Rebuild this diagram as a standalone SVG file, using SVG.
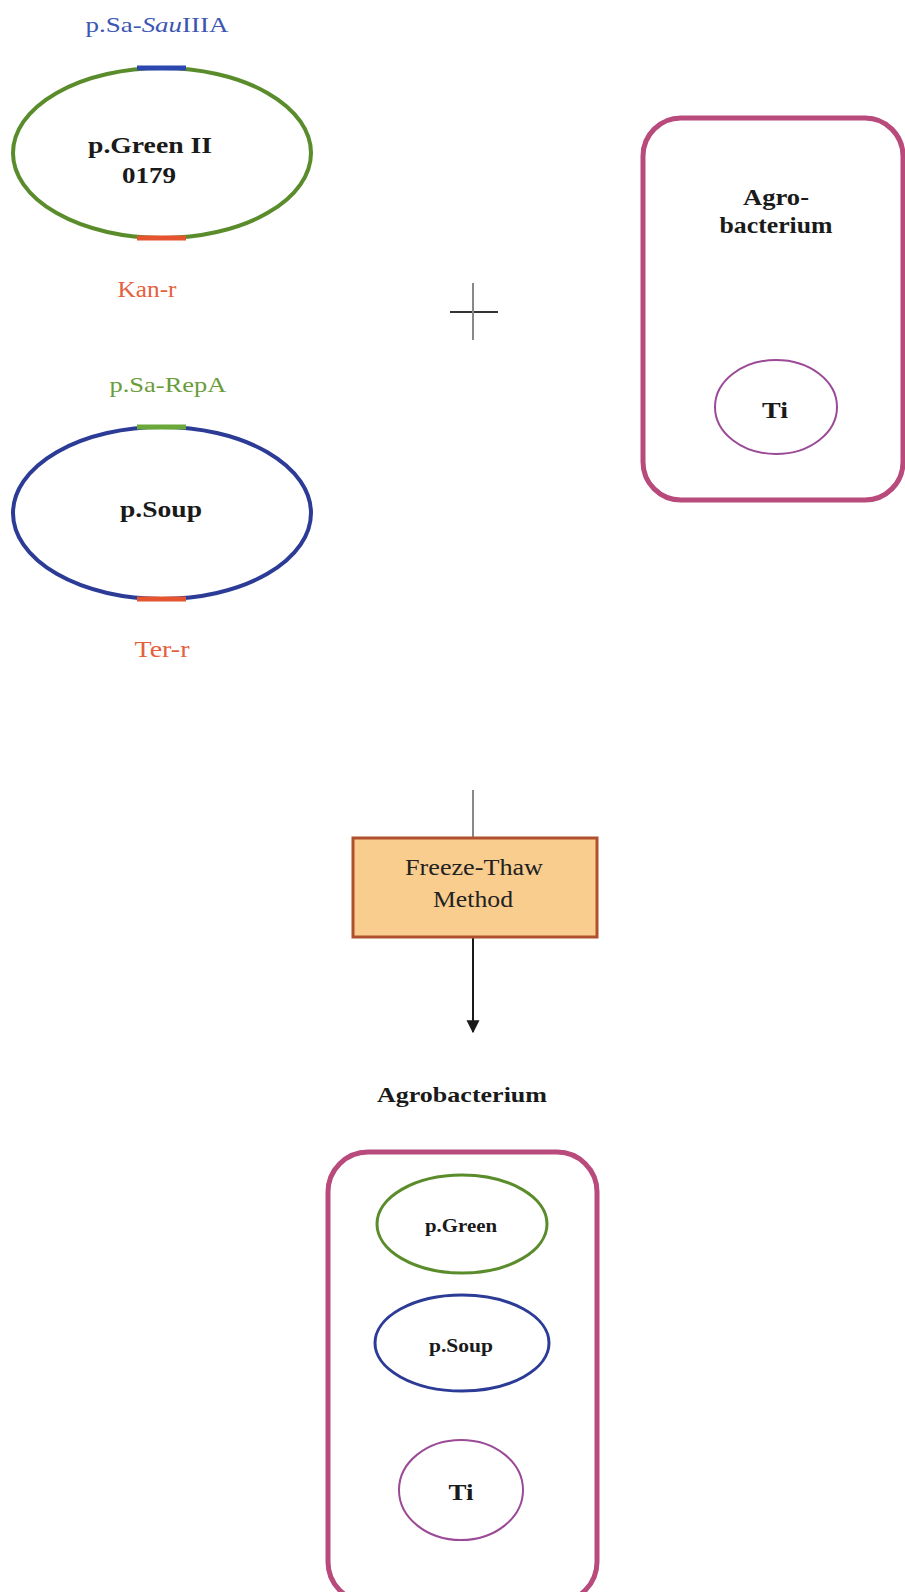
<svg xmlns="http://www.w3.org/2000/svg" width="905" height="1592" viewBox="0 0 905 1592">
<defs>
<style>
text{font-family:"Liberation Serif","Times New Roman",serif;text-anchor:middle}
.b{font-weight:bold;fill:#1a1a1a}
.cell{fill:#fff;stroke:#b84a7c;stroke-width:5}
.ti{fill:#fff;stroke:#9a4a96;stroke-width:2}
.green{fill:none;stroke:#5a8c2c}
.blue{fill:none;stroke:#2c3c96}
.seg{stroke-width:5;fill:none}
</style>
<marker id="arr" viewBox="0 0 10 10" refX="9" refY="5" markerWidth="13" markerHeight="17" markerUnits="userSpaceOnUse" orient="auto"><path d="M0,0 L10,5 L0,10 z" fill="#1a1a1a"/></marker>
</defs>
<rect width="905" height="1592" fill="#fff"/>
<g id="pgreen">
<text x="157" y="32" font-size="22" fill="#3b56b3" textLength="143" lengthAdjust="spacingAndGlyphs">p.Sa-<tspan font-style="italic">Sau</tspan>IIIA</text>
<ellipse cx="162" cy="153" rx="149" ry="85" class="green" stroke-width="4"/>
<line x1="137" y1="68" x2="186" y2="68" class="seg" stroke="#2c48b0"/>
<line x1="137" y1="238" x2="186" y2="238" class="seg" stroke="#e5542e"/>
<text x="150" y="153" font-size="24" class="b" textLength="124" lengthAdjust="spacingAndGlyphs">p.Green II</text>
<text x="149" y="183" font-size="24" class="b" textLength="54" lengthAdjust="spacingAndGlyphs">0179</text>
<text x="147" y="297" font-size="23" fill="#e5603c" textLength="59" lengthAdjust="spacingAndGlyphs">Kan-r</text>
</g>
<g id="psoup">
<text x="168" y="392" font-size="22" fill="#6a9c3a" textLength="117" lengthAdjust="spacingAndGlyphs">p.Sa-RepA</text>
<ellipse cx="162" cy="513" rx="149" ry="86" class="blue" stroke-width="4"/>
<line x1="137" y1="427" x2="186" y2="427" class="seg" stroke="#6aa83a"/>
<line x1="137" y1="599" x2="186" y2="599" class="seg" stroke="#e5542e"/>
<text x="161" y="517" font-size="24" class="b" textLength="82" lengthAdjust="spacingAndGlyphs">p.Soup</text>
<text x="162" y="657" font-size="23" fill="#e5603c" textLength="55" lengthAdjust="spacingAndGlyphs">Ter-r</text>
</g>
<g id="plus">
<line x1="450" y1="312" x2="498" y2="312" stroke="#333" stroke-width="2"/>
<line x1="473" y1="283" x2="473" y2="340" stroke="#888" stroke-width="2"/>
</g>
<g id="agro1">
<rect x="643" y="118" width="260" height="382" rx="38" class="cell"/>
<text x="776" y="205" font-size="23" class="b" textLength="66" lengthAdjust="spacingAndGlyphs">Agro-</text>
<text x="776" y="233" font-size="23" class="b" textLength="113" lengthAdjust="spacingAndGlyphs">bacterium</text>
<ellipse cx="776" cy="407" rx="61" ry="47" class="ti"/>
<text x="775" y="418" font-size="23" class="b" textLength="26" lengthAdjust="spacingAndGlyphs">Ti</text>
</g>
<g id="connectors">
<line x1="473" y1="790" x2="473" y2="838" stroke="#888" stroke-width="2"/>
<line x1="473" y1="937" x2="473" y2="1032" stroke="#1a1a1a" stroke-width="2" marker-end="url(#arr)"/>
</g>
<g id="freeze">
<rect x="353" y="838" width="244" height="99" fill="#f9cd8e" stroke="#b0502c" stroke-width="3"/>
<text x="474" y="875" font-size="23" fill="#222" textLength="138" lengthAdjust="spacingAndGlyphs">Freeze-Thaw</text>
<text x="473" y="907" font-size="23" fill="#222" textLength="80" lengthAdjust="spacingAndGlyphs">Method</text>
</g>
<g id="agro-label">
<text x="462" y="1102" font-size="22" class="b" textLength="170" lengthAdjust="spacingAndGlyphs">Agrobacterium</text>
</g>
<g id="agro2">
<rect x="328" y="1152" width="269" height="450" rx="40" class="cell"/>
<ellipse cx="462" cy="1224" rx="85" ry="49" class="green" stroke-width="3"/>
<text x="461" y="1232" font-size="19" class="b" textLength="72" lengthAdjust="spacingAndGlyphs">p.Green</text>
<ellipse cx="462" cy="1343" rx="87" ry="48" class="blue" stroke-width="3"/>
<text x="461" y="1352" font-size="19" class="b" textLength="64" lengthAdjust="spacingAndGlyphs">p.Soup</text>
<ellipse cx="461" cy="1490" rx="62" ry="50" class="ti"/>
<text x="461" y="1500" font-size="23" class="b" textLength="25" lengthAdjust="spacingAndGlyphs">Ti</text>
</g>
</svg>
